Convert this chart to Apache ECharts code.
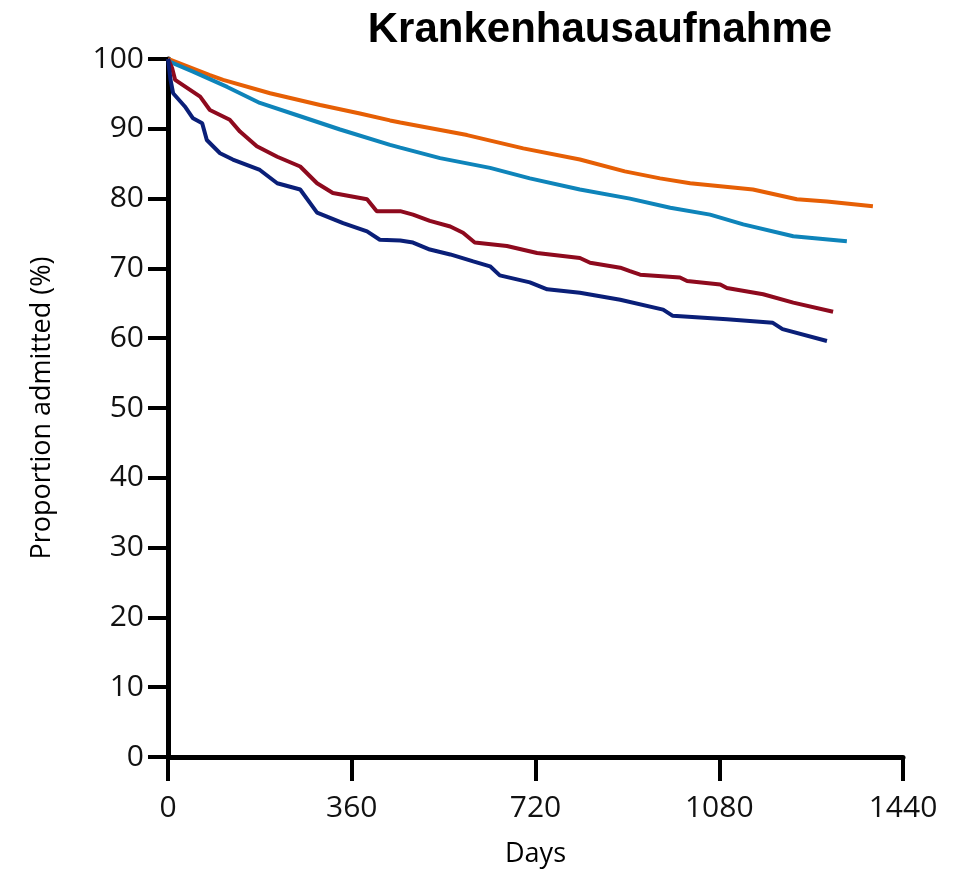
<!DOCTYPE html>
<html>
<head>
<meta charset="utf-8">
<script src="https://cdn.jsdelivr.net/npm/echarts@6/dist/echarts.min.js"></script>
<style>html,body{margin:0;padding:0;background:#fff;}#c{width:954px;height:873px;}</style>
</head>
<body>
<div id="c"></div>
<script>
const xTicks = [0, 360, 720, 1080, 1440];
const yTicks = [0, 10, 20, 30, 40, 50, 60, 70, 80, 90, 100];

const orangeDays = [0, 4, 82, 108, 200, 298, 376, 435, 455, 586, 696, 807, 895, 964, 1023, 1146, 1232, 1291, 1381];
const orangeVals = [100, 99.9, 97.7, 97.0, 95.1, 93.4, 92.2, 91.2, 90.9, 89.1, 87.2, 85.6, 83.9, 82.9, 82.2, 81.3, 79.9, 79.6, 78.9];

const blueDays = [0, 4, 49, 116, 180, 259, 337, 435, 455, 533, 631, 709, 807, 905, 984, 1062, 1127, 1225, 1330];
const blueVals = [100, 99.6, 98.2, 96.0, 93.7, 91.8, 89.9, 87.7, 87.3, 85.8, 84.4, 82.9, 81.3, 80.0, 78.7, 77.7, 76.3, 74.6, 73.9];

const redDays = [0, 8, 14, 63, 82, 121, 141, 174, 214, 259, 292, 323, 390, 409, 455, 480, 513, 553, 578, 601, 664, 723, 807, 827, 886, 905, 925, 1003, 1017, 1082, 1095, 1166, 1225, 1303];
const redVals = [100, 98.7, 97.0, 94.6, 92.7, 91.3, 89.6, 87.5, 86.0, 84.6, 82.2, 80.8, 79.9, 78.2, 78.2, 77.7, 76.8, 76.0, 75.1, 73.7, 73.2, 72.2, 71.5, 70.8, 70.1, 69.6, 69.1, 68.7, 68.2, 67.7, 67.2, 66.3, 65.1, 63.8];

const navyDays = [0, 5, 10, 33, 49, 67, 76, 102, 127, 180, 214, 259, 292, 343, 390, 415, 455, 480, 513, 553, 598, 631, 650, 709, 743, 807, 886, 970, 989, 1095, 1185, 1204, 1291];
const navyVals = [100, 97.0, 95.1, 93.2, 91.5, 90.8, 88.4, 86.5, 85.6, 84.1, 82.2, 81.3, 78.0, 76.5, 75.3, 74.1, 74.0, 73.7, 72.7, 72.0, 71.0, 70.3, 69.0, 68.0, 67.0, 66.5, 65.5, 64.1, 63.2, 62.7, 62.2, 61.3, 59.6];

function pairs(d, v) { return d.map((x, i) => [x, v[i]]); }

const chart = echarts.init(document.getElementById('c'), null, {renderer: 'canvas'});
const axisFont = '"Open Sans", "DejaVu Sans", sans-serif';
function mkLine(name, d, v, color) {
  return {
    name: name, type: 'line', data: pairs(d, v), showSymbol: false, symbol: 'none',
    lineStyle: {color: color, width: 4}, itemStyle: {color: color}, z: 3, animation: false
  };
}
chart.setOption({
  animation: false,
  backgroundColor: '#ffffff',
  title: {
    text: 'Krankenhausaufnahme', left: 595, top: 4, textAlign: 'center',
    textStyle: {fontFamily: '"Liberation Sans", Arial, sans-serif', fontWeight: 'bold', fontSize: 42, color: '#000'}
  },
  grid: {left: 168, right: 51, top: 59, bottom: 114, containLabel: false},
  xAxis: {
    type: 'value', min: xTicks[0], max: xTicks[xTicks.length - 1], interval: 360,
    name: 'Days', nameLocation: 'middle', nameGap: 84,
    nameTextStyle: {fontFamily: axisFont, fontSize: 27, color: '#000'},
    axisLine: {show: true, onZero: false, lineStyle: {color: '#000', width: 5}},
    axisTick: {show: true, inside: false, length: 24, lineStyle: {color: '#000', width: 4}},
    axisLabel: {margin: 36, fontFamily: axisFont, fontSize: 30, color: '#111',
      formatter: function (v) { return xTicks.indexOf(v) >= 0 ? String(v) : ''; }},
    splitLine: {show: false}
  },
  yAxis: {
    type: 'value', min: yTicks[0], max: yTicks[yTicks.length - 1], interval: 10,
    name: 'Proportion admitted (%)', nameLocation: 'middle', nameGap: 112, nameRotate: 90,
    nameTextStyle: {fontFamily: axisFont, fontSize: 27, color: '#000'},
    axisLine: {show: true, onZero: false, lineStyle: {color: '#000', width: 5}},
    axisTick: {show: true, inside: false, length: 20, lineStyle: {color: '#000', width: 4}},
    axisLabel: {margin: 24, fontFamily: axisFont, fontSize: 30, color: '#111',
      formatter: function (v) { return yTicks.indexOf(v) >= 0 ? String(v) : ''; }},
    splitLine: {show: false}
  },
  series: [
    mkLine('orange', orangeDays, orangeVals, '#E65F05'),
    mkLine('blue', blueDays, blueVals, '#0E84BA'),
    mkLine('red', redDays, redVals, '#8E0A1E'),
    mkLine('navy', navyDays, navyVals, '#0A1F78')
  ]
});
</script>
</body>
</html>
